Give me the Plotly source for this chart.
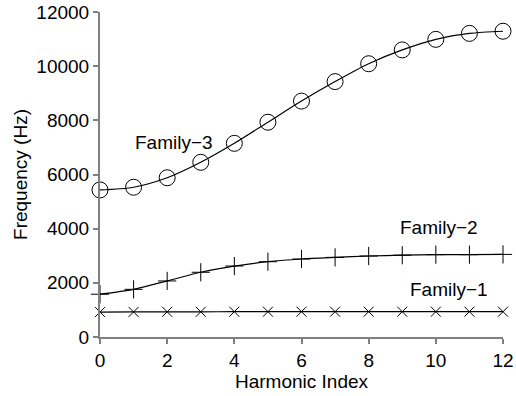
import plotly.graph_objects as go

harmonic_index = list(range(13))
family1 = [920, 925, 930, 930, 935, 935, 935, 935, 935, 935, 935, 935, 935]
family2 = [1580, 1760, 2070, 2390, 2620, 2780, 2880, 2940, 2990, 3020, 3040, 3040, 3050]
family3 = [5430, 5530, 5880, 6450, 7150, 7930, 8710, 9430, 10090, 10600, 10990, 11210, 11290]

y_ticks = [0, 2000, 4000, 6000, 8000, 10000, 12000]
y_tick_labels = ["0", "2000", "4000", "6000", "8000", "10000", "12000"]
x_ticks = [0, 2, 4, 6, 8, 10, 12]

font_family = "Liberation Sans, Arial, sans-serif"
fs = 19

fig = go.Figure()
line_style = dict(color="black", width=1.2, shape="spline", smoothing=0.8)

fig.add_trace(go.Scatter(
    x=harmonic_index, y=family1, mode="lines+markers", line=line_style,
    marker=dict(symbol="x-thin-open", size=10, line=dict(color="black", width=1)),
    cliponaxis=False, showlegend=False))
fig.add_trace(go.Scatter(
    x=harmonic_index, y=family2, mode="lines+markers", line=line_style,
    marker=dict(symbol="cross-thin-open", size=13, line=dict(color="black", width=1)),
    cliponaxis=False, showlegend=False))
fig.add_trace(go.Scatter(
    x=harmonic_index, y=family3, mode="lines+markers", line=line_style,
    marker=dict(symbol="circle-open", size=16, color="black", line=dict(color="black", width=1)),
    cliponaxis=False, showlegend=False))

annots = [("Family\u22123", 2.2, 7200), ("Family\u22122", 10.1, 4050), ("Family\u22121", 10.4, 1760)]
for txt, ax_, ay_ in annots:
    fig.add_annotation(x=ax_, y=ay_, text=txt, showarrow=False,
                       font=dict(size=fs, color="black", family=font_family))

fig.update_layout(
    width=516, height=396,
    margin=dict(l=100, r=13, t=12, b=59, autoexpand=False),
    plot_bgcolor="white", paper_bgcolor="white",
    font=dict(family=font_family, size=fs, color="black"),
)
fig.update_xaxes(range=[0, 12], tickvals=x_ticks, showgrid=False, zeroline=False,
                 automargin=False,
                 showline=True, linecolor="#808080", linewidth=1.5,
                 ticks="outside", ticklen=5, tickcolor="#808080", tickwidth=1.5,
                 title=dict(text="Harmonic Index", standoff=0, font=dict(size=fs)),
                 tickfont=dict(size=fs))
fig.update_yaxes(range=[0, 12000], tickvals=y_ticks, ticktext=y_tick_labels,
                 showgrid=False, zeroline=False, automargin=False,
                 showline=True, linecolor="#808080", linewidth=2,
                 ticks="outside", ticklen=5, tickcolor="#808080", tickwidth=1.5,
                 title=dict(text="Frequency (Hz)", standoff=4, font=dict(size=fs)),
                 tickfont=dict(size=fs))

fig.write_html("out.html")
